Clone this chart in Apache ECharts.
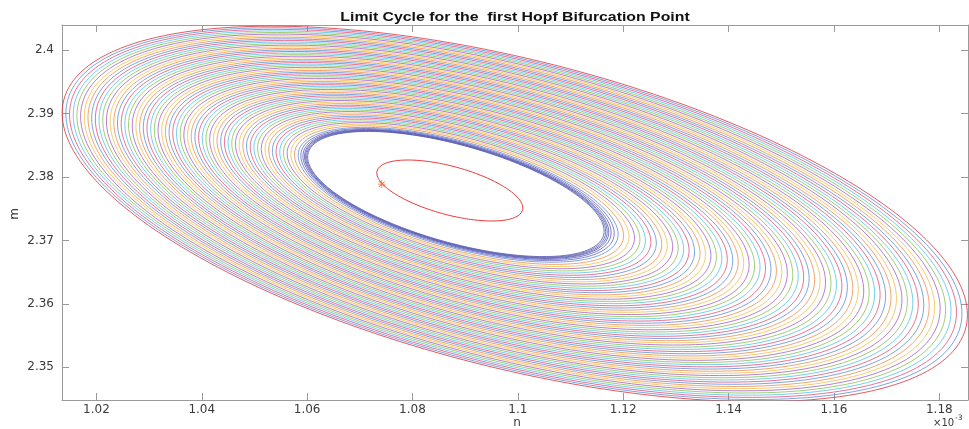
<!DOCTYPE html>
<html>
<head>
<meta charset="utf-8">
<script src="https://cdn.jsdelivr.net/npm/echarts@6/dist/echarts.min.js"></script>
<style>html,body{margin:0;padding:0;background:#fff}#c{width:969px;height:429px}</style>
</head>
<body>
<div id="c"></div>
<script>
// ---- data (n in units of 1e-3) ----
const titleText = 'Limit Cycle for the  first Hopf Bifurcation Point';
const nTicks = [1.02, 1.04, 1.06, 1.08, 1.10, 1.12, 1.14, 1.16, 1.18];
const mTicks = [2.35, 2.36, 2.37, 2.38, 2.39, 2.40];
const nRange = [1.01347, 1.18545];
const mRange = [2.34485, 2.40394];
// ellipse geometry: [centre n, half-width n, centre m, drop of right tip in m, half-height m]
const innerCycle = [1.08823, 0.028105, 2.37731, 0.00583, 0.009849];
const outerCycle = [1.09944, 0.086023, 2.37416, 0.015916, 0.029625];
const firstCycle = [1.08709, 0.013863, 2.37786, 0.002758, 0.004806];
const startPoint = [1.07418, 2.37888];
// leftmost n of every cycle, innermost to outermost
const cycleLeftTipN = [
  1.0601, 1.0599, 1.0597, 1.0595, 1.0592, 1.0588,
  1.0583, 1.0576, 1.0569, 1.0562, 1.0555, 1.0548, 1.0541, 1.0534, 1.0527, 1.0520,
  1.0513, 1.0506, 1.0499, 1.0492, 1.0485, 1.0478, 1.0471, 1.0464, 1.0457, 1.0450,
  1.0443, 1.0436, 1.0429, 1.0422, 1.0415, 1.0408, 1.0401, 1.0394, 1.0387, 1.0380,
  1.0373, 1.0366, 1.0359, 1.0352, 1.0345, 1.0338, 1.0331, 1.0324, 1.0317, 1.0310,
  1.0303, 1.0296, 1.0289, 1.0282, 1.0275, 1.0268, 1.0261, 1.0254, 1.0247, 1.0240,
  1.0233, 1.0226, 1.0219, 1.0212, 1.0205, 1.0198, 1.0191, 1.0184, 1.0177, 1.0170,
  1.0163, 1.0156, 1.0149, 1.0142, 1.0135
];
const clusterCount = 6;
const clusterColors = ['#4a55b0', '#6658b0', '#4a60c0', '#5a50a8', '#4d5cb8', '#6a62bb'];
const cycleColors = ['#5b8fd6', '#f08c4a', '#eec04a', '#a460c0', '#86c250', '#52c0ec', '#e0507a'];
const outerColor = '#e0303a';
const firstColor = '#e83a3a';
const starColor = '#e8601c';

// ---- build curves ----
function ellipse(p) {
  const [cn, a, cm, c, r] = p;
  const d = Math.sqrt(Math.max(r * r - c * c, 0));
  const pts = [];
  const N = 220;
  for (let i = 0; i <= N; i++) {
    const t = 2 * Math.PI * i / N;
    pts.push([cn + a * Math.cos(t), cm - c * Math.cos(t) + d * Math.sin(t)]);
  }
  return pts;
}
const innerLeft = innerCycle[0] - innerCycle[1];
const outerLeft = outerCycle[0] - outerCycle[1];
const series = [];
cycleLeftTipN.forEach((L, i) => {
  const f = (innerLeft - L) / (innerLeft - outerLeft);
  const p = innerCycle.map((v, k) => v + f * (outerCycle[k] - v));
  let color;
  if (i < clusterCount) color = clusterColors[i % clusterColors.length];
  else if (i === cycleLeftTipN.length - 1) color = outerColor;
  else color = cycleColors[(i - clusterCount) % cycleColors.length];
  series.push({
    type: 'line', data: ellipse(p), showSymbol: false, symbol: 'none',
    silent: true, animation: false, z: 2,
    lineStyle: { width: 1, color: color, opacity: 0.8 }
  });
});
series.push({
  type: 'line', data: ellipse(firstCycle), showSymbol: false, symbol: 'none',
  silent: true, animation: false, z: 3,
  lineStyle: { width: 1, color: firstColor }
});
const asterisk = 'path://M-1,-10L1,-10L1,10L-1,10Z M-10,-1L10,-1L10,1L-10,1Z M-7.8,-6.4L6.4,7.8L7.8,6.4L-6.4,-7.8Z M6.4,-7.8L7.8,-6.4L-6.4,7.8L-7.8,6.4Z';
series.push({
  type: 'scatter', data: [startPoint], symbol: asterisk, symbolSize: 8,
  itemStyle: { color: starColor }, silent: true, animation: false, z: 4
});

const fmt = v => String(+(+v).toFixed(2));
const axisColor = '#9a9a9a';
const labelFont = { color: '#3a3a3a', fontSize: 12, fontFamily: 'DejaVu Sans' };

const chart = echarts.init(document.getElementById('c'), null, { renderer: 'canvas' });
chart.setOption({
  animation: false,
  backgroundColor: '#fff',
  grid: { left: 62, right: 1, top: 25, bottom: 29, containLabel: false },
  xAxis: [
    { type: 'value', min: nRange[0], max: nRange[1], position: 'bottom',
      axisLine: { show: true, onZero: false, lineStyle: { color: axisColor, width: 1 } },
      axisTick: { show: true, inside: true, length: 7, customValues: nTicks, lineStyle: { color: axisColor } },
      axisLabel: Object.assign({ show: true, customValues: nTicks, formatter: fmt, margin: 4 }, labelFont),
      splitLine: { show: false } },
    { type: 'value', min: nRange[0], max: nRange[1], position: 'top',
      axisLine: { show: true, onZero: false, lineStyle: { color: axisColor, width: 1 } },
      axisTick: { show: true, inside: true, length: 7, customValues: nTicks, lineStyle: { color: axisColor } },
      axisLabel: { show: false }, splitLine: { show: false } }
  ],
  yAxis: [
    { type: 'value', min: mRange[0], max: mRange[1], position: 'left',
      axisLine: { show: true, onZero: false, lineStyle: { color: axisColor, width: 1 } },
      axisTick: { show: true, inside: true, length: 7, customValues: mTicks, lineStyle: { color: axisColor } },
      axisLabel: Object.assign({ show: true, customValues: mTicks, formatter: fmt, margin: 8 }, labelFont),
      splitLine: { show: false } },
    { type: 'value', min: mRange[0], max: mRange[1], position: 'right',
      axisLine: { show: true, onZero: false, lineStyle: { color: axisColor, width: 1 } },
      axisTick: { show: true, inside: true, length: 7, customValues: mTicks, lineStyle: { color: axisColor } },
      axisLabel: { show: false }, splitLine: { show: false } }
  ],
  graphic: [
    { type: 'text', x: 515, y: 17.5, scaleX: 1.32, silent: true,
      style: { text: titleText, fontFamily: 'Liberation Sans', fontWeight: 'bold', fontSize: 12,
               fill: '#111', textAlign: 'center', textVerticalAlign: 'middle' } },
    { type: 'text', x: 517, y: 423, silent: true,
      style: { text: 'n', fontFamily: 'DejaVu Sans', fontSize: 12, fill: '#3a3a3a', textAlign: 'center', textVerticalAlign: 'middle' } },
    { type: 'text', x: 15, y: 214, rotation: Math.PI / 2, silent: true,
      style: { text: 'm', fontFamily: 'DejaVu Sans', fontSize: 12, fill: '#3a3a3a', textAlign: 'center', textVerticalAlign: 'middle' } },
    { type: 'text', x: 933, y: 423, silent: true,
      style: { text: '×10', fontFamily: 'DejaVu Sans', fontSize: 10, fill: '#3a3a3a', textAlign: 'left', textVerticalAlign: 'middle' } },
    { type: 'text', x: 955, y: 418, silent: true,
      style: { text: '-3', fontFamily: 'DejaVu Sans', fontSize: 7.5, fill: '#3a3a3a', textAlign: 'left', textVerticalAlign: 'middle' } }
  ],
  series: series
});
</script>
</body>
</html>
